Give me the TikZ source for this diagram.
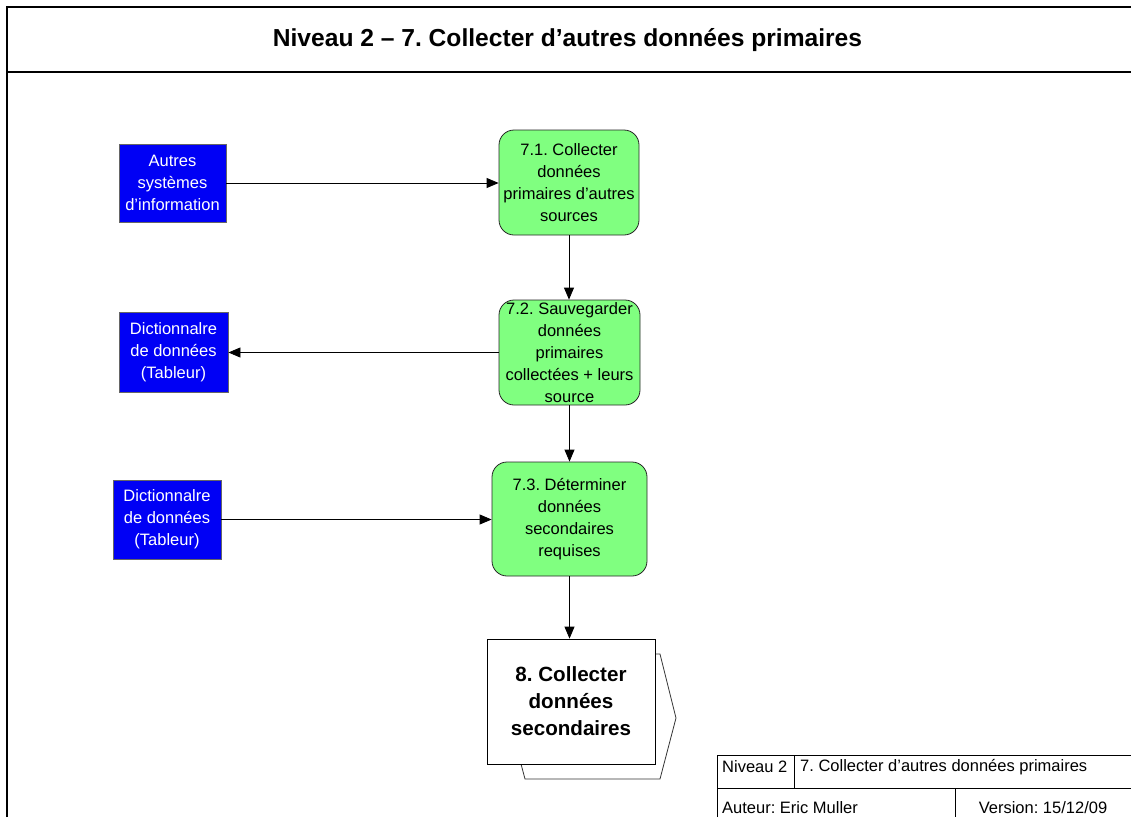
\documentclass[tikz,border=0pt]{standalone}
\usepackage{fontspec}
\setmainfont{Liberation Sans}
\usetikzlibrary{arrows.meta}
\frenchspacing

\definecolor{extblue}{RGB}{0,0,245}
\definecolor{procgreen}{RGB}{128,255,128}

\begin{document}
\begin{tikzpicture}[x=1pt,y=-1pt,
  every node/.style={inner sep=0pt},
  body/.style={font=\fontsize{16.5}{22}\selectfont},
  extbox/.style={body, draw=black!60, line width=0.8pt, fill=extblue, text=white, align=center},
  procbox/.style={body, draw=black!85, line width=0.8pt, fill=procgreen, rounded corners=15pt, align=center},
  flow/.style={draw=black, line width=0.8pt, -{Triangle[length=12pt,width=10pt]}},
  frameline/.style={line width=1.5pt},
  tableline/.style={line width=0.7pt}
]
\useasboundingbox (0,0) rectangle (1131,817);

% page frame and title band
\draw[frameline] (7,817) -- (7,7) -- (1131,7);
\draw[frameline] (7,72) -- (1131,72);
\node[font=\fontsize{24.6}{30}\selectfont\bfseries] (title) at (567.5,40) {Niveau 2 – 7. Collecter d’autres données primaires};

% external entities
\node[extbox, minimum width=107pt, minimum height=78pt] (autres) at (172.5,183) {Autres\\systèmes\\d’information};
\node[extbox, minimum width=109pt, minimum height=80pt] (dict1) at (173.5,352) {Dictionnalre\\de données\\(Tableur)};
\node[extbox, minimum width=108pt, minimum height=79pt] (dict2) at (167,519.5) {Dictionnalre\\de données\\(Tableur)};

% processes
\node[procbox, minimum width=140pt, minimum height=105pt] (p71) at (569,182.5) {7.1. Collecter\\données\\primaires d’autres\\sources};
\node[procbox, minimum width=141pt, minimum height=105pt] (p72) at (569.5,352.5) {7.2. Sauvegarder\\données\\primaires\\collectées + leurs\\source};
\node[procbox, minimum width=155pt, minimum height=114pt] (p73) at (569.5,519) {7.3. Déterminer\\données\\secondaires\\requises};

% off-page connector to step 8
\draw[line width=0.8pt, draw=black!80] (655,654) -- (660,654) -- (676,718) -- (660,779) -- (525,779) -- (521,764);
\node[draw=black, line width=0.8pt, fill=white, minimum width=168pt, minimum height=125pt,
      align=center, font=\fontsize{20.6}{27}\selectfont\bfseries] (p8) at (571,701.5) {8. Collecter\\données\\secondaires};

% data flows
\draw[flow] (autres.east) -- (autres.east -| p71.west);
\draw[flow] (p71.south) -- (p71.south |- p72.north);
\draw[flow] (p72.west) -- (p72.west -| dict1.east);
\draw[flow] (p72.south) -- (p72.south |- p73.north);
\draw[flow] (dict2.east) -- (dict2.east -| p73.west);
\draw[flow] (p73.south) -- (p73.south |- p8.north);

% title block
\draw[tableline] (717,817) -- (717,755) -- (1131,755);
\draw[tableline] (717,788) -- (1131,788);
\draw[tableline] (794,755) -- (794,788);
\draw[tableline] (955,788) -- (955,817);
\node[body, anchor=west] (tlevel) at (722,767) {Niveau 2};
\node[body, anchor=west] (tname) at (800,767) {7. Collecter d’autres données primaires};
\node[body, anchor=west] (tauthor) at (722,808) {Auteur: Eric Muller};
\node[body] (tversion) at (1043,808) {Version: 15/12/09};
\end{tikzpicture}
\end{document}
